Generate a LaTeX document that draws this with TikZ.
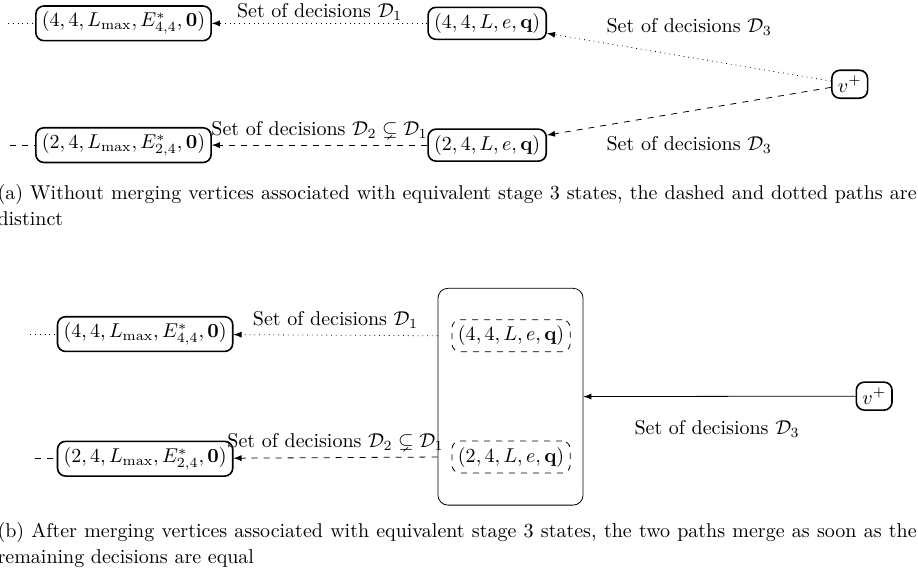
\documentclass[tikz,border=0pt]{standalone}
\usepackage{amsmath}
\usepackage{amssymb}
\usepackage{tikz}
\usetikzlibrary{arrows,positioning,calc}

\begin{document}
\begin{tikzpicture}[
  >=latex,
  state/.style={rectangle,draw,thick,rounded corners=4pt,inner sep=3pt},
  eqstate/.style={rectangle,draw,dashed,rounded corners=4pt,inner sep=3pt},
  groupbox/.style={rectangle,draw,rounded corners=5pt,minimum width=2.55cm,minimum height=3.81cm},
  capt/.style={text width=16.15cm,align=justify,inner sep=0pt,anchor=north west,font=\fontsize{10}{13}\selectfont},
]
\useasboundingbox (0,0) rectangle (16.13,-10.21);

% (a) without merging
\node[state] (a_end4) at (2.17,-0.41) {$(4,4,L_{\max},E^*_{4,4},\mathbf{0})$};
\node[state] (a_mid4) at (8.56,-0.41) {$(4,4,L,e,\mathbf{q})$};
\node[state] (a_end2) at (2.17,-2.55) {$(2,4,L_{\max},E^*_{2,4},\mathbf{0})$};
\node[state] (a_mid2) at (8.56,-2.55) {$(2,4,L,e,\mathbf{q})$};
\node[state] (a_vplus) at (14.93,-1.48) {$v^+$};
\coordinate (a_in4) at (0.14,-0.41);
\coordinate (a_in2) at (0.18,-2.55);

\node (a_lab4) at (12.11,-0.47) {Set of decisions $\mathcal{D}_3$};
\node (a_lab2) at (12.11,-2.55) {Set of decisions $\mathcal{D}_3$};

\draw[dotted] (a_in4) -- (a_end4);
\draw[dashed] (a_in2) -- (a_end2);
\draw[->,dotted] (a_mid4) -- node[above,yshift=-2pt]{Set of decisions $\mathcal{D}_1$} (a_end4);
\draw[->,dashed] (a_mid2) -- node[above]{Set of decisions $\mathcal{D}_2\subsetneq\mathcal{D}_1$} (a_end2);
\draw[->,dotted] (a_vplus) -- (a_mid4);
\draw[->,dashed] (a_vplus) -- (a_mid2);

\node[capt] (a_capt) at (-0.05,-3.23) {(a) Without merging vertices associated with equivalent stage 3 states, the dashed and dotted paths are distinct};

% (b) after merging
\node[groupbox] (b_group) at (8.97,-6.97) {};
\node[eqstate] (b_mid4) at (8.98,-5.90) {$(4,4,L,e,\mathbf{q})$};
\node[eqstate] (b_mid2) at (8.98,-8.03) {$(2,4,L,e,\mathbf{q})$};
\node[state] (b_end4) at (2.55,-5.87) {$(4,4,L_{\max},E^*_{4,4},\mathbf{0})$};
\node[state] (b_end2) at (2.55,-8.06) {$(2,4,L_{\max},E^*_{2,4},\mathbf{0})$};
\node[state] (b_vplus) at (15.36,-6.96) {$v^+$};
\coordinate (b_in4) at (0.53,-5.87);
\coordinate (b_in2) at (0.62,-8.06);

\node (b_lab) at (12.6,-7.54) {Set of decisions $\mathcal{D}_3$};

\draw[dotted] (b_in4) -- (b_end4);
\draw[dashed] (b_in2) -- (b_end2);
\draw[->,dotted] (b_mid4 -| b_group.west) -- node[above]{Set of decisions $\mathcal{D}_1$} (b_end4);
\draw[->,dashed] (b_mid2 -| b_group.west) -- node[above]{Set of decisions $\mathcal{D}_2\subsetneq\mathcal{D}_1$} (b_end2);
\draw[->] (b_vplus) -- (b_group);

\node[capt] (b_capt) at (-0.05,-9.17) {(b) After merging vertices associated with equivalent stage 3 states, the two paths merge as soon as the remaining decisions are equal};

\end{tikzpicture}
\end{document}
